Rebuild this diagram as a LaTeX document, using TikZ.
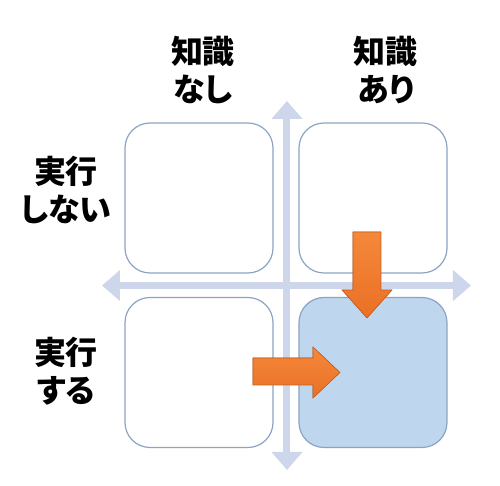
\documentclass[tikz,border=0pt]{standalone}
\usepackage{fontspec}
\newfontfamily\jpfont{Noto Sans CJK JP}[RawFeature=+palt]
\usetikzlibrary{arrows.meta}
\definecolor{axisblue}{RGB}{206,214,235}
\definecolor{boxline}{RGB}{140,163,194}
\definecolor{boxfill}{RGB}{190,215,238}
\definecolor{orangetop}{RGB}{245,136,58}
\definecolor{orangebot}{RGB}{234,112,38}
\tikzset{
  quadbox/.style={draw=boxline,line width=0.6pt,rounded corners=12.5pt,minimum width=74pt,minimum height=75pt,inner sep=0pt},
  axisline/.style={draw=axisblue,line width=3.5pt,{Triangle[width=15pt,length=9pt]}-{Triangle[width=15pt,length=9pt]}},
  headtext/.style={font=\fontsize{16pt}{19pt}\selectfont\jpfont\bfseries,align=center,inner sep=0pt},
  blockarrow/.style={top color=orangetop,bottom color=orangebot,draw=orangebot!85!black,line width=0.3pt}
}
\begin{document}
\begin{tikzpicture}[x=0.5pt,y=-0.5pt]
    \useasboundingbox (0,0) rectangle (500,486);
    % axes
    \coordinate (west) at (102,285.5);
    \coordinate (east) at (471,285.5);
    \coordinate (north) at (287,101);
    \coordinate (south) at (287,470);
    \draw[axisline] (west) -- (east);
    \draw[axisline] (north) -- (south);
    % quadrants
    \node[quadbox] (tl) at (199,198) {};
    \node[quadbox] (tr) at (373,198) {};
    \node[quadbox] (bl) at (199,372.5) {};
    \node[quadbox,fill=boxfill] (br) at (373,372.5) {};
    % labels
    \node[headtext] (knno) at (203,70) {知識\\なし};
    \node[headtext] (knyes) at (386,70) {知識\\あり};
    \node[headtext] (exno) at (66,190) {実行\\しない};
    \node[headtext] (exyes) at (66,371) {実行\\する};
    % orange arrows
    \filldraw[blockarrow] (353,232) -- (381,232) -- (381,290) -- (392,290) -- (367,318) -- (342,290) -- (353,290) -- cycle;
    \filldraw[blockarrow] (253,358) -- (313,358) -- (313,347) -- (340,372.5) -- (313,398) -- (313,385) -- (253,385) -- cycle;
\end{tikzpicture}
\end{document}
